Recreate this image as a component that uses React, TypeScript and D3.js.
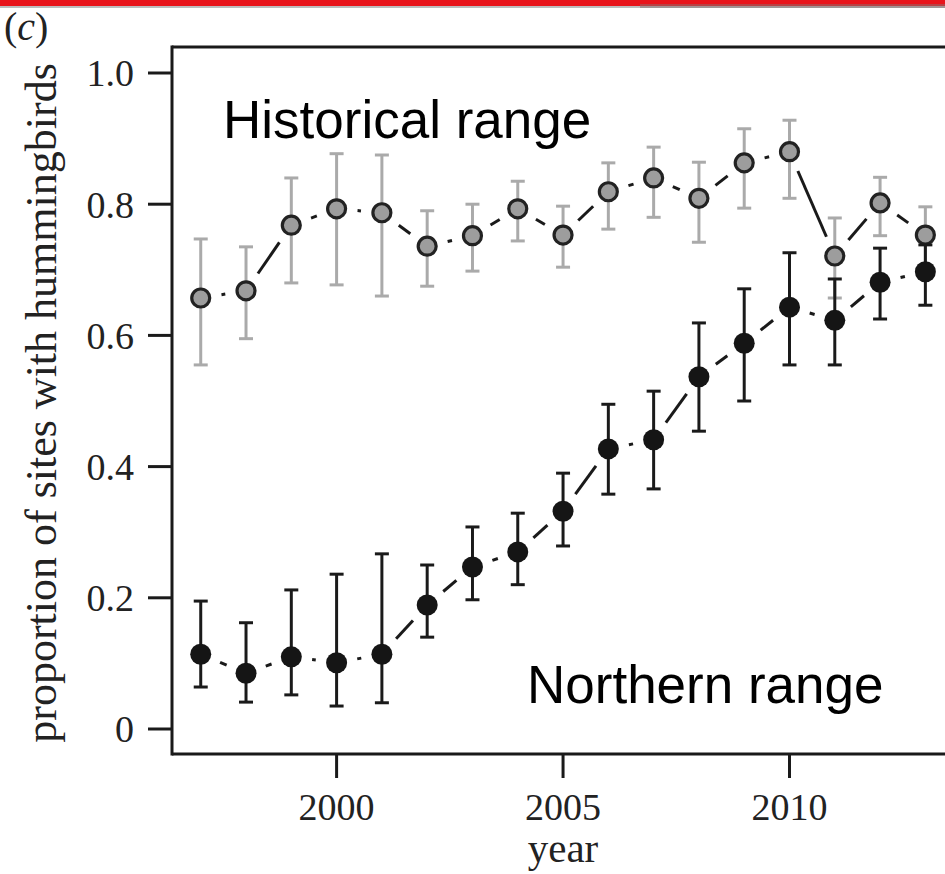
import React from "react";
import * as d3 from "d3";

const years = [1997, 1998, 1999, 2000, 2001, 2002, 2003, 2004, 2005, 2006, 2007, 2008, 2009, 2010, 2011, 2012, 2013];

const historicalMean = [0.657, 0.668, 0.768, 0.793, 0.787, 0.736, 0.752, 0.793, 0.753, 0.819, 0.840, 0.809, 0.863, 0.880, 0.721, 0.802, 0.753];
const historicalLow = [0.555, 0.595, 0.680, 0.677, 0.660, 0.675, 0.698, 0.744, 0.704, 0.762, 0.780, 0.742, 0.794, 0.809, 0.657, 0.752, 0.703];
const historicalHigh = [0.747, 0.735, 0.840, 0.877, 0.875, 0.790, 0.800, 0.835, 0.797, 0.863, 0.887, 0.864, 0.915, 0.928, 0.779, 0.841, 0.796];

const northernMean = [0.114, 0.085, 0.110, 0.101, 0.114, 0.189, 0.247, 0.270, 0.332, 0.427, 0.441, 0.537, 0.588, 0.643, 0.623, 0.681, 0.697];
const northernLow = [0.064, 0.041, 0.052, 0.035, 0.040, 0.140, 0.197, 0.220, 0.279, 0.358, 0.366, 0.454, 0.500, 0.555, 0.555, 0.625, 0.646];
const northernHigh = [0.195, 0.162, 0.212, 0.236, 0.267, 0.250, 0.308, 0.329, 0.390, 0.495, 0.515, 0.619, 0.671, 0.726, 0.686, 0.733, 0.738];

const yTicks = [0, 0.2, 0.4, 0.6, 0.8, 1.0];
const yTickLabels = ["0", "0.2", "0.4", "0.6", "0.8", "1.0"];
const xTicks = [2000, 2005, 2010];

const yTitle = "proportion of sites with hummingbirds";
const xTitle = "year";
const historicalLabel = "Historical range";
const northernLabel = "Northern range";

const W = 945;
const H = 874;

const serif = "'Liberation Serif', 'Times New Roman', Times, serif";
const sans = "'Liberation Sans', Arial, Helvetica, sans-serif";

export default function App() {
  const x = d3.scaleLinear().domain([2000, 2010]).range([336.6, 789.5]);
  const y = d3.scaleLinear().domain([0, 1]).range([729, 73]);

  const boxLeft = 172;
  const boxTop = 47;
  const boxBottom = 754;
  const gap = 21;

  const connectors = (means: number[], key: string) => {
    const segs: any[] = [];
    for (let i = 0; i < years.length - 1; i++) {
      const x1 = x(years[i]);
      const y1 = y(means[i]);
      const x2 = x(years[i + 1]);
      const y2 = y(means[i + 1]);
      const dx = x2 - x1;
      const dy = y2 - y1;
      const L = Math.sqrt(dx * dx + dy * dy);
      if (L <= 2 * gap) continue;
      const ux = dx / L;
      const uy = dy / L;
      segs.push(
        <line
          key={key + i}
          x1={x1 + ux * gap}
          y1={y1 + uy * gap}
          x2={x2 - ux * gap}
          y2={y2 - uy * gap}
          stroke="#1a1a1a"
          strokeWidth={3}
        />
      );
    }
    return segs;
  };

  const errorBars = (low: number[], high: number[], color: string, key: string) =>
    years.map((yr, i) => {
      const cx = x(yr);
      return (
        <g key={key + i} stroke={color} strokeWidth={3}>
          <line x1={cx} x2={cx} y1={y(low[i])} y2={y(high[i])} />
          <line x1={cx - 7} x2={cx + 7} y1={y(low[i])} y2={y(low[i])} />
          <line x1={cx - 7} x2={cx + 7} y1={y(high[i])} y2={y(high[i])} />
        </g>
      );
    });

  return (
    <svg
      width={W}
      height={H}
      viewBox={`0 0 ${W} ${H}`}
      style={{ position: "absolute", left: 0, top: 0, background: "#fff" }}
    >
      <rect x={0} y={0} width={W} height={H} fill="#ffffff" />
      {/* red banner at top */}
      <rect x={0} y={0} width={W} height={6} fill="#e8141b" />
      <rect x={0} y={6} width={W} height={2} fill="#bdbdbd" />
      <rect x={640} y={4} width={W - 640} height={4} fill="#8a6e6e" opacity={0.5} />

      {/* panel label */}
      <text x={4} y={40} fontFamily={serif} fontSize={40} fill="#222">
        (<tspan fontStyle="italic">c</tspan>)
      </text>

      {/* box */}
      <line x1={boxLeft} x2={W + 5} y1={boxTop} y2={boxTop} stroke="#1a1a1a" strokeWidth={3} />
      <line x1={boxLeft} x2={boxLeft} y1={boxTop - 1.5} y2={boxBottom + 1.5} stroke="#1a1a1a" strokeWidth={3} />
      <line x1={boxLeft} x2={W + 5} y1={boxBottom} y2={boxBottom} stroke="#1a1a1a" strokeWidth={3} />

      {/* y axis ticks */}
      {yTicks.map((t, i) => (
        <g key={"yt" + i}>
          <line x1={148} x2={boxLeft} y1={y(t)} y2={y(t)} stroke="#1a1a1a" strokeWidth={3} />
          <text
            x={134}
            y={y(t)}
            dy="0.35em"
            textAnchor="end"
            fontFamily={serif}
            fontSize={38}
            fill="#222"
          >
            {yTickLabels[i]}
          </text>
        </g>
      ))}

      {/* x axis ticks */}
      {xTicks.map((t) => (
        <g key={"xt" + t}>
          <line x1={x(t)} x2={x(t)} y1={boxBottom} y2={778} stroke="#1a1a1a" strokeWidth={3} />
          <text x={x(t)} y={820} textAnchor="middle" fontFamily={serif} fontSize={38} fill="#222">
            {t}
          </text>
        </g>
      ))}

      {/* axis titles */}
      <text x={563} y={862} textAnchor="middle" fontFamily={serif} fontSize={41} fill="#222">
        {xTitle}
      </text>
      <text
        transform={`translate(56, ${(y(0) + y(1)) / 2 + 2}) rotate(-90)`}
        textAnchor="middle"
        fontFamily={serif}
        fontSize={44}
        fill="#222"
      >
        {yTitle}
      </text>

      {/* series labels */}
      <text x={223} y={138} fontFamily={sans} fontSize={53} fill="#000">
        {historicalLabel}
      </text>
      <text x={527} y={703} fontFamily={sans} fontSize={53} fill="#000">
        {northernLabel}
      </text>

      {/* connectors */}
      {connectors(historicalMean, "hc")}
      {connectors(northernMean, "nc")}

      {/* historical series */}
      {errorBars(historicalLow, historicalHigh, "#aaaaaa", "he")}
      {years.map((yr, i) => (
        <circle
          key={"hp" + i}
          cx={x(yr)}
          cy={y(historicalMean[i])}
          r={9}
          fill="#9d9d9d"
          stroke="#222"
          strokeWidth={3.2}
        />
      ))}

      {/* northern series */}
      {errorBars(northernLow, northernHigh, "#1a1a1a", "ne")}
      {years.map((yr, i) => (
        <circle key={"np" + i} cx={x(yr)} cy={y(northernMean[i])} r={10.5} fill="#151515" />
      ))}
    </svg>
  );
}
